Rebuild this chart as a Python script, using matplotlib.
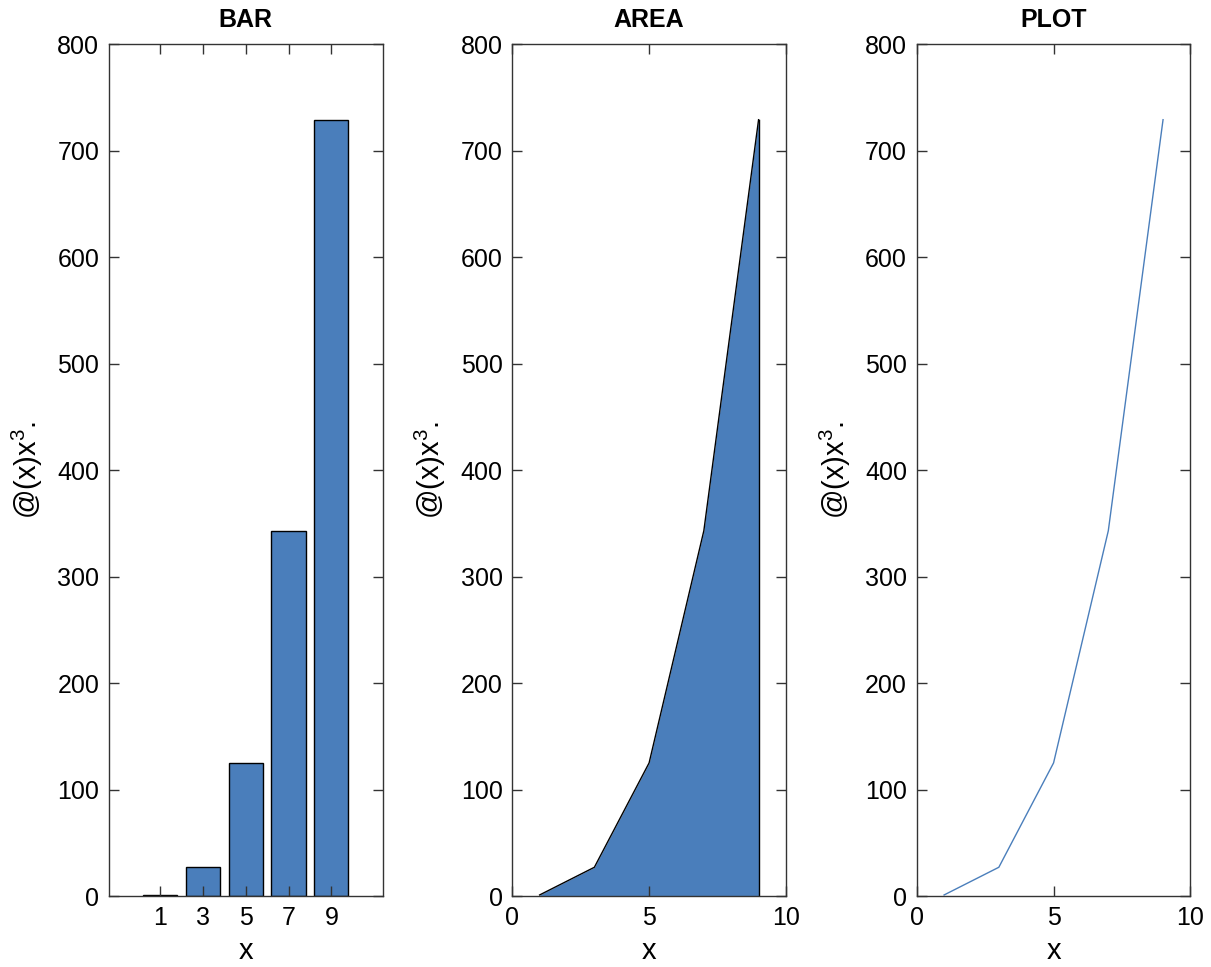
import matplotlib.pyplot as plt

plt.rcParams['font.family'] = ['Liberation Sans', 'DejaVu Sans']
plt.rcParams['mathtext.fontset'] = 'custom'
plt.rcParams['mathtext.rm'] = 'Liberation Sans'
plt.rcParams['mathtext.it'] = 'Liberation Sans:italic'

# daten
x_vals = [1, 3, 5, 7, 9]
y_vals = [1, 27, 125, 343, 729]
titles = ['BAR', 'AREA', 'PLOT']
blau = '#4a7ebb'

fig = plt.figure(figsize=(12.11, 9.67), dpi=100)
lefts = [0.090, 0.423, 0.757]
axes = [fig.add_axes([l, 0.0734, 0.226, 0.881]) for l in lefts]

# BAR
ax = axes[0]
ax.bar(x_vals, y_vals, width=1.6, color=blau, edgecolor='black', linewidth=1)
ax.set_xlim(-1.4, 11.4)
ax.set_xticks(x_vals)

# AREA
ax = axes[1]
ax.fill_between(x_vals, y_vals, 0, color=blau, linewidth=0)
ax.plot(x_vals, y_vals, color='black', linewidth=1)
ax.plot([x_vals[-1], x_vals[-1]], [0, y_vals[-1]], color='black', linewidth=1)
ax.set_xlim(0, 10)
ax.set_xticks([0, 5, 10])

# PLOT
ax = axes[2]
ax.plot(x_vals, y_vals, color=blau, linewidth=1)
ax.set_xlim(0, 10)
ax.set_xticks([0, 5, 10])

for ax, t in zip(axes, titles):
    ax.set_ylim(0, 800)
    ax.set_yticks(range(0, 801, 100))
    ax.set_title(t, fontsize=18, fontweight='bold', pad=12)
    ax.set_xlabel('x', fontsize=21, labelpad=5)
    ax.set_ylabel('@(x)x$^3$.', fontsize=21, labelpad=9)
    ax.tick_params(direction='in', top=True, right=True, labelsize=18,
                   length=7, color='#333333', width=1, pad=7)
    for s in ax.spines.values():
        s.set_color('#333333')
        s.set_linewidth(1)

plt.savefig('out.png')
